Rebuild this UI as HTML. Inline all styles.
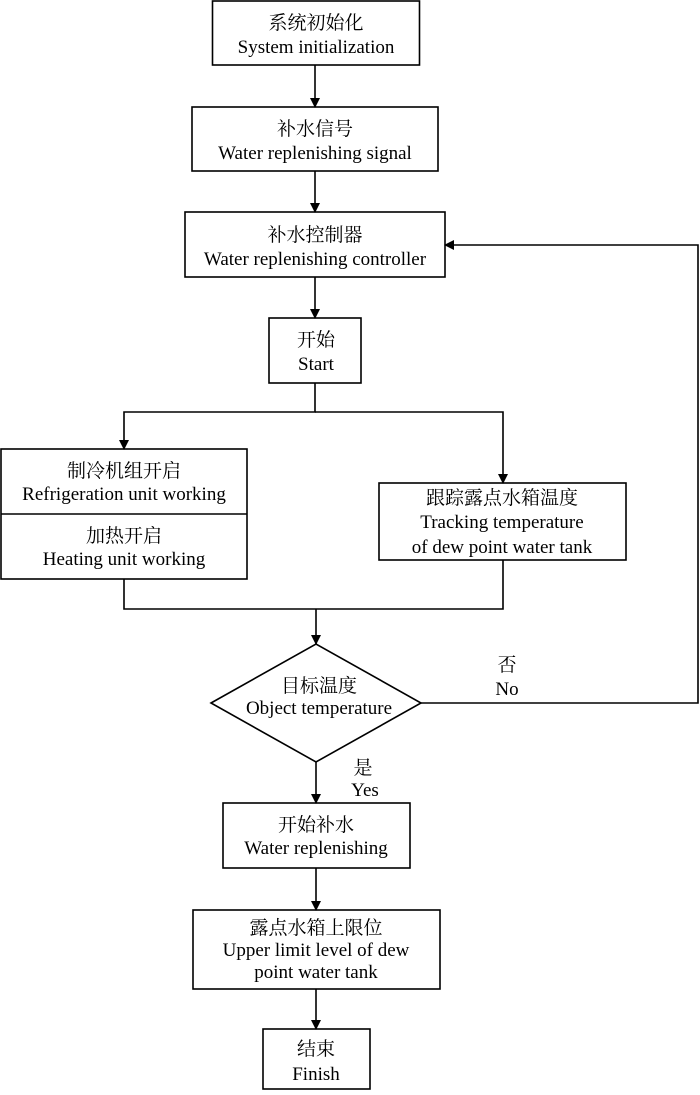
<!DOCTYPE html>
<html><head><meta charset="utf-8"><style>
html,body{margin:0;padding:0;background:#fff;}
svg text{font-family:"Liberation Serif","Noto Serif CJK SC","Noto Sans CJK SC",serif;font-size:19px;fill:#000;text-anchor:middle;}
</style></head><body>
<svg width="700" height="1090" viewBox="0 0 700 1090" xmlns="http://www.w3.org/2000/svg">
<defs><marker id="a" markerWidth="10" markerHeight="10" refX="9" refY="5" orient="auto" markerUnits="userSpaceOnUse"><path d="M0,0 L10,5 L0,10 Z" fill="#000"/></marker></defs>
<g fill="none" stroke="#000" stroke-width="1.6">
<rect x="212.5" y="1" width="207" height="64"/>
<rect x="192" y="107" width="246" height="64"/>
<rect x="185" y="212" width="260" height="65"/>
<rect x="269" y="318" width="92" height="65"/>
<rect x="1" y="449" width="246" height="130"/>
<line x1="1" y1="514" x2="247" y2="514"/>
<rect x="379" y="483" width="247" height="77"/>
<polygon points="211,703 316,644 421,703 316,762"/>
<rect x="223" y="803" width="187" height="65"/>
<rect x="193" y="910" width="247" height="79"/>
<rect x="263" y="1029" width="107" height="60"/>
<line x1="315" y1="65" x2="315" y2="107" marker-end="url(#a)"/>
<line x1="315" y1="171" x2="315" y2="212" marker-end="url(#a)"/>
<line x1="315" y1="277" x2="315" y2="318" marker-end="url(#a)"/>
<polyline points="315,383 315,412 124,412 124,449" marker-end="url(#a)"/>
<polyline points="315,412 503,412 503,483" marker-end="url(#a)"/>
<polyline points="124,579 124,609 503,609 503,560"/>
<line x1="316" y1="609" x2="316" y2="644" marker-end="url(#a)"/>
<polyline points="421,703 698,703 698,245 445,245" marker-end="url(#a)"/>
<line x1="316" y1="762" x2="316" y2="803" marker-end="url(#a)"/>
<line x1="316" y1="868" x2="316" y2="910" marker-end="url(#a)"/>
<line x1="316" y1="989" x2="316" y2="1029" marker-end="url(#a)"/>
</g>
<text x="316" y="29">系统初始化</text><text x="316" y="53">System initialization</text>
<text x="315" y="135">补水信号</text><text x="315" y="159">Water replenishing signal</text>
<text x="315" y="241">补水控制器</text><text x="315" y="265">Water replenishing controller</text>
<text x="316" y="346">开始</text><text x="316" y="370">Start</text>
<text x="124" y="477">制冷机组开启</text><text x="124" y="500">Refrigeration unit working</text>
<text x="124" y="542">加热开启</text><text x="124" y="565">Heating unit working</text>
<text x="502" y="504">跟踪露点水箱温度</text><text x="502" y="528">Tracking temperature</text><text x="502" y="553">of dew point water tank</text>
<text x="319" y="692">目标温度</text><text x="319" y="714">Object temperature</text>
<text x="507" y="671">否</text><text x="507" y="695">No</text>
<text x="363" y="774">是</text><text x="365" y="796">Yes</text>
<text x="316" y="831">开始补水</text><text x="316" y="854">Water replenishing</text>
<text x="316" y="934">露点水箱上限位</text><text x="316" y="956">Upper limit level of dew</text><text x="316" y="978">point water tank</text>
<text x="316" y="1055">结束</text><text x="316" y="1080">Finish</text>
</svg>
</body></html>
